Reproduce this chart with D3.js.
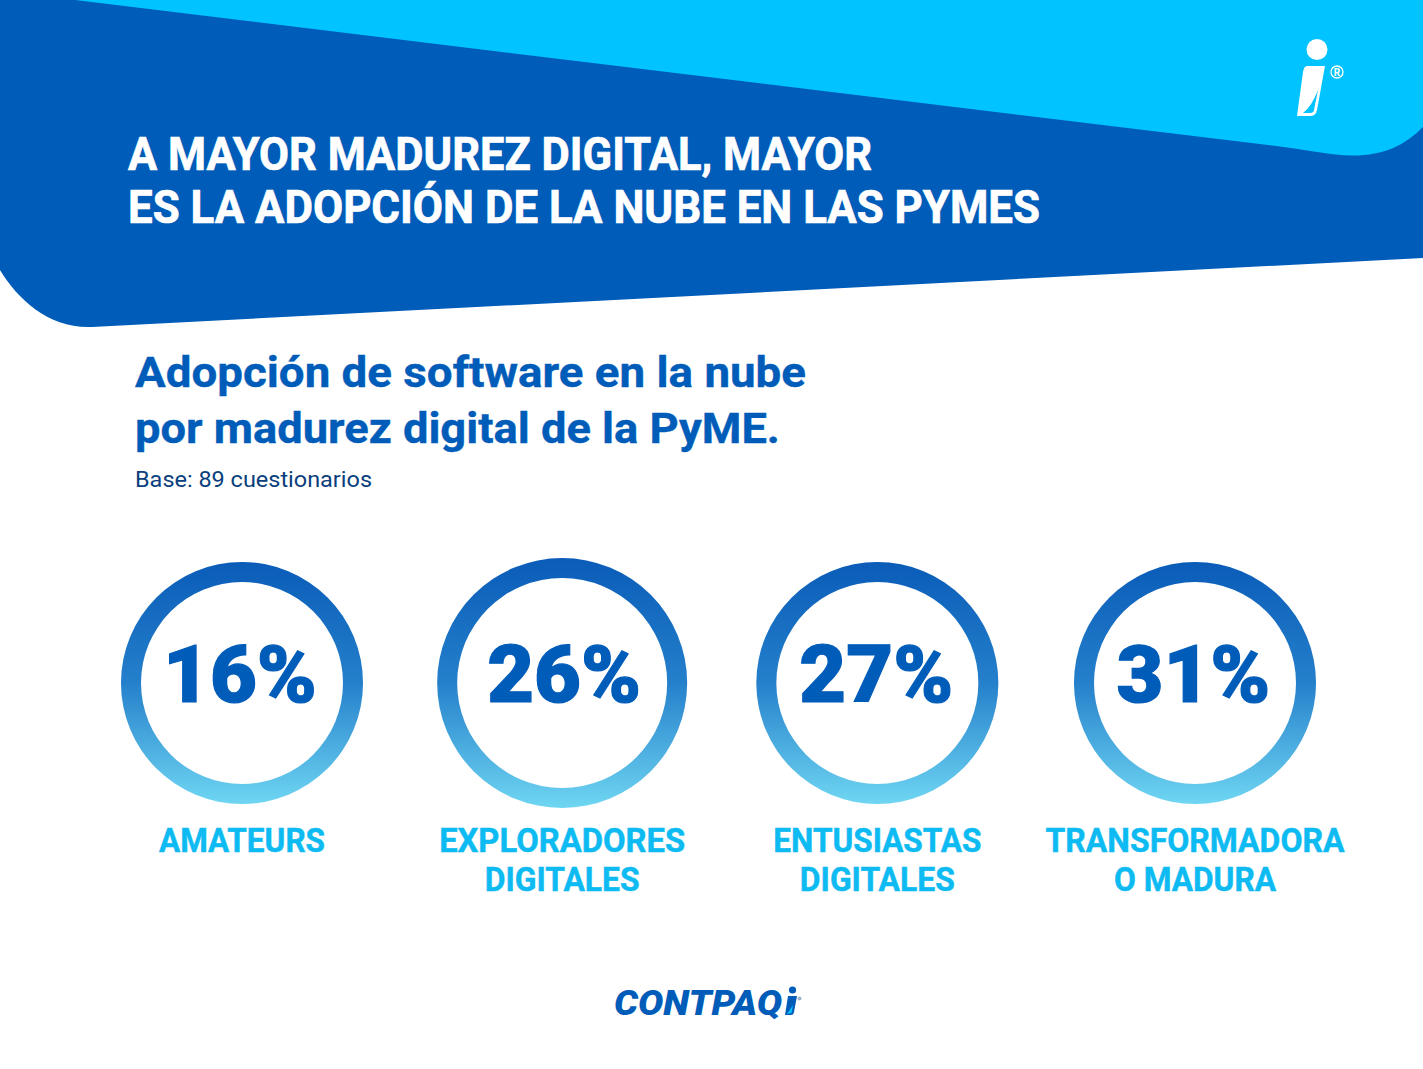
<!DOCTYPE html>
<html>
<head>
<meta charset="utf-8">
<title>Adopción de software en la nube</title>
<script src="https://cdn.jsdelivr.net/npm/d3@7"></script>
<style>
  html, body { margin: 0; padding: 0; background: #fff; overflow: hidden; }
  svg { display: block; }
  text { font-family: Roboto, sans-serif; font-weight: 700; }
</style>
</head>
<body>
<svg id="chart" width="1423" height="1069"></svg>
<script>
const segments = ["AMATEURS", "EXPLORADORES DIGITALES", "ENTUSIASTAS DIGITALES", "TRANSFORMADORA O MADURA"];
const adoption = [16, 26, 27, 31];
const segmentLines = [["AMATEURS"], ["EXPLORADORES", "DIGITALES"], ["ENTUSIASTAS", "DIGITALES"], ["TRANSFORMADORA", "O MADURA"]];
const headline = ["A MAYOR MADUREZ DIGITAL, MAYOR", "ES LA ADOPCIÓN DE LA NUBE EN LAS PYMES"];
const subtitle = ["Adopción de software en la nube", "por madurez digital de la PyME."];
const baseNote = "Base: 89 cuestionarios";

const navy = "#005cb9", sky = "#00c3ff", ink = "#0b3f7d", labelBlue = "#0dbbf2";
const svg = d3.select("#chart");

// Rendered widths of the text lines, the reference face is wider/narrower than Roboto
const headlineWidths = [744, 912];
const subtitleWidths = [671, 645];
const labelWidths = [[166], [246, 155], [208, 155], [299, 162]];
const ringNudge = [0, 2.5, 0, 0];
const numberNudge = [-2, 2, -1, -1.5];

// Ring gradient
const defs = svg.append("defs");
const grad = defs.append("linearGradient").attr("id", "ringFill")
  .attr("x1", 0).attr("y1", 0).attr("x2", 0).attr("y2", 1);
grad.append("stop").attr("offset", "0%").attr("stop-color", "#0a5cb8");
grad.append("stop").attr("offset", "50%").attr("stop-color", "#2580cb");
grad.append("stop").attr("offset", "100%").attr("stop-color", "#6fd6f2");

// Header shapes
svg.append("path").attr("fill", navy)
  .attr("d", "M0,0 L1423,0 L1423,258 L92,327 C50,329 18,300 0,270 Z");
svg.append("path").attr("fill", sky)
  .attr("d", "M75,0 L1280,146.5 C1310,150 1330,155.5 1352,155.5 C1385,155.5 1405,145 1423,127 L1423,0 Z");

// Header logo
const mark = svg.append("g").attr("fill", "#fff");
mark.append("circle").attr("cx", 1317).attr("cy", 49.5).attr("r", 10.5);
mark.append("path").attr("d", "M1307,66 L1325,66 L1317,110 Q1316,116 1310,116 L1297,116 L1303,72 Q1304,66 1307,66 Z");
mark.append("path").attr("fill", sky).attr("d", "M1318,90 Q1312,106 1303,113 L1310,113 Q1313.5,113 1314,110 Z");
mark.append("circle").attr("cx", 1337).attr("cy", 72).attr("r", 6)
  .attr("fill", "none").attr("stroke", "#fff").attr("stroke-width", 1.3);
mark.append("text").attr("x", 1337).attr("y", 75.5).attr("text-anchor", "middle")
  .attr("font-size", 10).text("R");

// Headline
svg.selectAll("text.headline").data(headline).join("text")
  .attr("class", "headline")
  .attr("x", 128)
  .attr("y", (d, i) => 170 + i * 53)
  .attr("font-size", 46)
  .attr("textLength", (d, i) => headlineWidths[i])
  .attr("lengthAdjust", "spacingAndGlyphs")
  .attr("fill", "#fff")
  .attr("stroke", "#fff")
  .attr("stroke-width", 0.7)
  .text(d => d);

// Subtitle
svg.selectAll("text.subtitle").data(subtitle).join("text")
  .attr("class", "subtitle")
  .attr("x", 135)
  .attr("y", (d, i) => 387 + i * 56)
  .attr("font-size", 43)
  .attr("textLength", (d, i) => subtitleWidths[i])
  .attr("lengthAdjust", "spacingAndGlyphs")
  .attr("fill", navy)
  .attr("stroke", navy)
  .attr("stroke-width", 0.4)
  .text(d => d);

svg.append("text")
  .attr("x", 135).attr("y", 487)
  .attr("font-size", 22)
  .attr("textLength", 237)
  .attr("lengthAdjust", "spacingAndGlyphs")
  .attr("fill", ink)
  .style("font-weight", 400)
  .text(baseNote);

// Rings
const x = d3.scalePoint().domain(segments).range([242, 1195]);
const ring = d3.arc().startAngle(0).endAngle(2 * Math.PI);
const rings = svg.selectAll("g.ring").data(segments).join("g")
  .attr("class", "ring")
  .attr("transform", (d, i) => `translate(${x(d) + ringNudge[i]},683)`);

rings.append("path")
  .attr("fill", "url(#ringFill)")
  .attr("d", (d, i) => ring({ innerRadius: i === 1 ? 105 : 101, outerRadius: i === 1 ? 125 : 121 }));

rings.append("text")
  .attr("x", (d, i) => numberNudge[i])
  .attr("y", 19)
  .attr("text-anchor", "middle")
  .attr("font-size", 80)
  .attr("textLength", 154)
  .attr("lengthAdjust", "spacingAndGlyphs")
  .attr("fill", navy)
  .attr("stroke", navy)
  .attr("stroke-width", 1.2)
  .style("font-weight", 900)
  .text((d, i) => `${adoption[i]}%`);

rings.each(function (d, i) {
  d3.select(this).selectAll("text.label").data(segmentLines[i]).join("text")
    .attr("class", "label")
    .attr("y", (l, j) => 169 + j * 39)
    .attr("text-anchor", "middle")
    .attr("font-size", 34)
    .attr("textLength", (l, j) => labelWidths[i][j])
    .attr("lengthAdjust", "spacingAndGlyphs")
    .attr("fill", labelBlue)
    .attr("stroke", labelBlue)
    .attr("stroke-width", 0.5)
    .text(l => l);
});

// Footer logo
const footer = svg.append("g");
footer.append("text")
  .attr("x", 614).attr("y", 1015)
  .attr("font-size", 35)
  .attr("textLength", 168)
  .attr("lengthAdjust", "spacingAndGlyphs")
  .attr("fill", navy)
  .style("font-family", "Roboto, sans-serif")
  .style("font-weight", 900)
  .style("font-style", "italic")
  .text("CONTPAQ");
footer.append("circle").attr("cx", 792.5).attr("cy", 990).attr("r", 3.6).attr("fill", navy);
footer.append("path").attr("fill", navy)
  .attr("d", "M788,996 L797,996 L794,1012 Q793.5,1015 791,1015 L785,1015 Z");
footer.append("path").attr("fill", sky)
  .attr("d", "M793,1005 L791.5,1013 L787,1014 Z");
footer.append("circle").attr("cx", 799.5).attr("cy", 998.5).attr("r", 2).attr("fill", "#9fb4c9");
</script>
</body>
</html>
